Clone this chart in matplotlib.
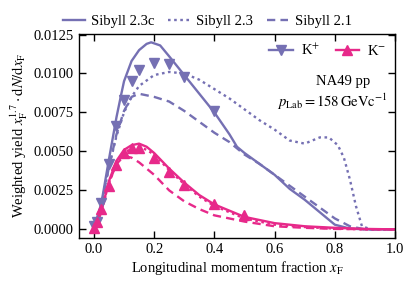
import matplotlib
matplotlib.use("Agg")
import matplotlib.pyplot as plt
from matplotlib.lines import Line2D
from matplotlib.ticker import FormatStrFormatter

plt.rcParams['font.family'] = ['Liberation Serif', 'DejaVu Serif']
plt.rcParams['mathtext.fontset'] = 'stix'
plt.rcParams['font.size'] = 10.5

PURPLE = '#7570b3'
PINK = '#e7298a'

# ---- data ----
kp_23c_x = [0, 0.025, 0.05, 0.075, 0.09, 0.1, 0.125, 0.15, 0.175, 0.19, 0.22, 0.25, 0.3, 0.35, 0.4,
            0.45, 0.475, 0.5, 0.55, 0.6, 0.65, 0.7, 0.75, 0.8, 0.85, 0.9, 1.0]
kp_23c_y = [0.0, 0.0017, 0.0045, 0.0072, 0.0086, 0.0095, 0.0108, 0.0115, 0.0119, 0.0120, 0.0118, 0.0111,
            0.0099, 0.0087, 0.0075, 0.0061, 0.0053, 0.0049, 0.0042, 0.0035, 0.0026, 0.0019,
            0.0011, 0.0003, 0.00005, 0.0, 0.0]

kp_23_x = [0, 0.025, 0.05, 0.075, 0.1, 0.125, 0.15, 0.2, 0.25, 0.3, 0.35, 0.4, 0.45, 0.5, 0.55,
           0.6, 0.65, 0.7, 0.75, 0.78, 0.81, 0.83, 0.85, 0.87, 0.89, 0.92, 1.0]
kp_23_y = [0, 0.0016, 0.0040, 0.0060, 0.0075, 0.0085, 0.0092, 0.0099, 0.0101, 0.0100, 0.0096,
           0.0090, 0.0084, 0.0077, 0.0070, 0.0064, 0.0057, 0.0055, 0.0059, 0.0059, 0.0054,
           0.0046, 0.0032, 0.0015, 0.0002, 0, 0]

kp_21_x = [0, 0.025, 0.05, 0.075, 0.1, 0.125, 0.15, 0.2, 0.25, 0.3, 0.35, 0.4, 0.45, 0.5, 0.55,
           0.6, 0.65, 0.7, 0.75, 0.8, 0.85, 0.9, 1.0]
kp_21_y = [0, 0.0016, 0.0040, 0.0061, 0.0076, 0.0085, 0.0087, 0.0085, 0.0082, 0.0076, 0.0069,
           0.0062, 0.0056, 0.0048, 0.0042, 0.0035, 0.0028, 0.0021, 0.0014, 0.0007, 0.0002,
           0.0, 0.0]

km_23c_x = [0, 0.025, 0.05, 0.075, 0.1, 0.125, 0.15, 0.175, 0.2, 0.25, 0.3, 0.35, 0.4, 0.5, 0.6, 0.7,
            0.8, 0.9, 1.0]
km_23c_y = [0, 0.0012, 0.0031, 0.0044, 0.0051, 0.0054, 0.0055, 0.0053, 0.0049, 0.0039, 0.0030, 0.0022,
            0.0016, 0.0008, 0.0004, 0.0002, 0.0001, 0.00003, 0]

km_23_x = [0, 0.025, 0.05, 0.075, 0.1, 0.125, 0.15, 0.175, 0.2, 0.25, 0.3, 0.35, 0.4, 0.5, 0.6, 0.7,
           0.8, 0.9, 1.0]
km_23_y = [0, 0.0012, 0.0030, 0.0042, 0.0049, 0.0052, 0.0053, 0.0051, 0.0048, 0.0038, 0.0029, 0.0021,
           0.0015, 0.0007, 0.0003, 0.00015, 0.00005, 0, 0]

km_21_x = [0, 0.025, 0.05, 0.075, 0.1, 0.125, 0.15, 0.2, 0.25, 0.3, 0.35, 0.4, 0.5, 0.6, 0.7,
           0.8, 1.0]
km_21_y = [0, 0.0011, 0.0030, 0.0042, 0.0047, 0.0046, 0.0043, 0.0035, 0.0025, 0.0018, 0.0013,
           0.0009, 0.0005, 0.0002, 0.0001, 0.00003, 0]

kp_data_x = [0.0, 0.01, 0.025, 0.05, 0.075, 0.1, 0.125, 0.15, 0.2, 0.25, 0.3, 0.4]
kp_data_y = [0.0002, 0.0005, 0.0017, 0.0042, 0.0066, 0.0083, 0.0095, 0.0102, 0.0107, 0.0106,
             0.0098, 0.0076]

km_data_x = [0.0, 0.01, 0.025, 0.05, 0.075, 0.1, 0.125, 0.15, 0.2, 0.25, 0.3, 0.4, 0.5]
km_data_y = [0.0001, 0.0005, 0.0013, 0.0028, 0.0041, 0.0049, 0.0052, 0.0052, 0.00455, 0.0037,
             0.00285, 0.00165, 0.0009]

model_labels = ['Sibyll 2.3c', 'Sibyll 2.3', 'Sibyll 2.1']
data_labels = ['K$^{+}$', 'K$^{-}$']
yticks = [0.0, 0.0025, 0.005, 0.0075, 0.01, 0.0125]
xticks = [0.0, 0.2, 0.4, 0.6, 0.8, 1.0]

# ---- figure ----
fig = plt.figure(figsize=(4.15, 2.86), dpi=100)
ax = fig.add_axes([0.190, 0.168, 0.762, 0.714])

lw = 1.7
DOT = (0, (1.1, 1.5))
DASH = (0, (3.5, 2.2))
ax.plot(kp_23c_x, kp_23c_y, color=PURPLE, lw=lw, ls='-')
ax.plot(kp_23_x, kp_23_y, color=PURPLE, lw=lw, ls=DOT)
ax.plot(kp_21_x, kp_21_y, color=PURPLE, lw=lw, ls=DASH)
ax.plot(km_23c_x, km_23c_y, color=PINK, lw=lw, ls='-')
ax.plot(km_23_x, km_23_y, color=PINK, lw=lw, ls=DOT)
ax.plot(km_21_x, km_21_y, color=PINK, lw=lw, ls=DASH)

ax.plot(kp_data_x, kp_data_y, ls='none', marker='v', ms=7, color=PURPLE)
ax.plot(km_data_x, km_data_y, ls='none', marker='^', ms=7, color=PINK)

ax.set_xlim(-0.05, 1.0)
ax.set_ylim(-0.00055, 0.01255)
ax.set_xticks(xticks)
ax.set_yticks(yticks)
ax.yaxis.set_major_formatter(FormatStrFormatter('%.4f'))
ax.xaxis.set_major_formatter(FormatStrFormatter('%.1f'))
ax.tick_params(direction='in', top=True, right=True, length=5, width=1)
for s in ax.spines.values():
    s.set_linewidth(1.0)

ax.set_xlabel(r'Longitudinal momentum fraction $x_\mathrm{F}$', labelpad=2)
ax.set_ylabel(r'Weighted yield $x_\mathrm{F}^{1.7}\cdot\mathrm{d}N/\mathrm{d}x_\mathrm{F}$', labelpad=3)

# model legend above axes
mh = [Line2D([], [], color=PURPLE, lw=lw, ls='-'),
      Line2D([], [], color=PURPLE, lw=lw, ls=DOT),
      Line2D([], [], color=PURPLE, lw=lw, ls=DASH)]
fig.legend(mh, model_labels, loc='center', bbox_to_anchor=(0.5, 0.925), ncol=3,
           frameon=False, handlelength=1.5, columnspacing=0.9, handletextpad=0.45,
           fontsize=10.5)

# data legend inside
dh = [Line2D([], [], color=PURPLE, lw=lw, marker='v', ms=7),
      Line2D([], [], color=PINK, lw=lw, marker='^', ms=7)]
ax.legend(dh, data_labels, loc='upper right', ncol=2, frameon=False,
          handlelength=1.6, columnspacing=1.1, handletextpad=0.55,
          bbox_to_anchor=(1.0, 1.0), borderaxespad=0.2, fontsize=10.5)

ax.text(0.921, 0.766, 'NA49 pp', transform=ax.transAxes, ha='right', va='center', fontsize=10.5)
ax.text(0.975, 0.668, r'$p_\mathrm{Lab} = 158\,\mathrm{GeVc^{-1}}$', transform=ax.transAxes,
        ha='right', va='center', fontsize=10.5)

fig.savefig('out.png', dpi=100)
